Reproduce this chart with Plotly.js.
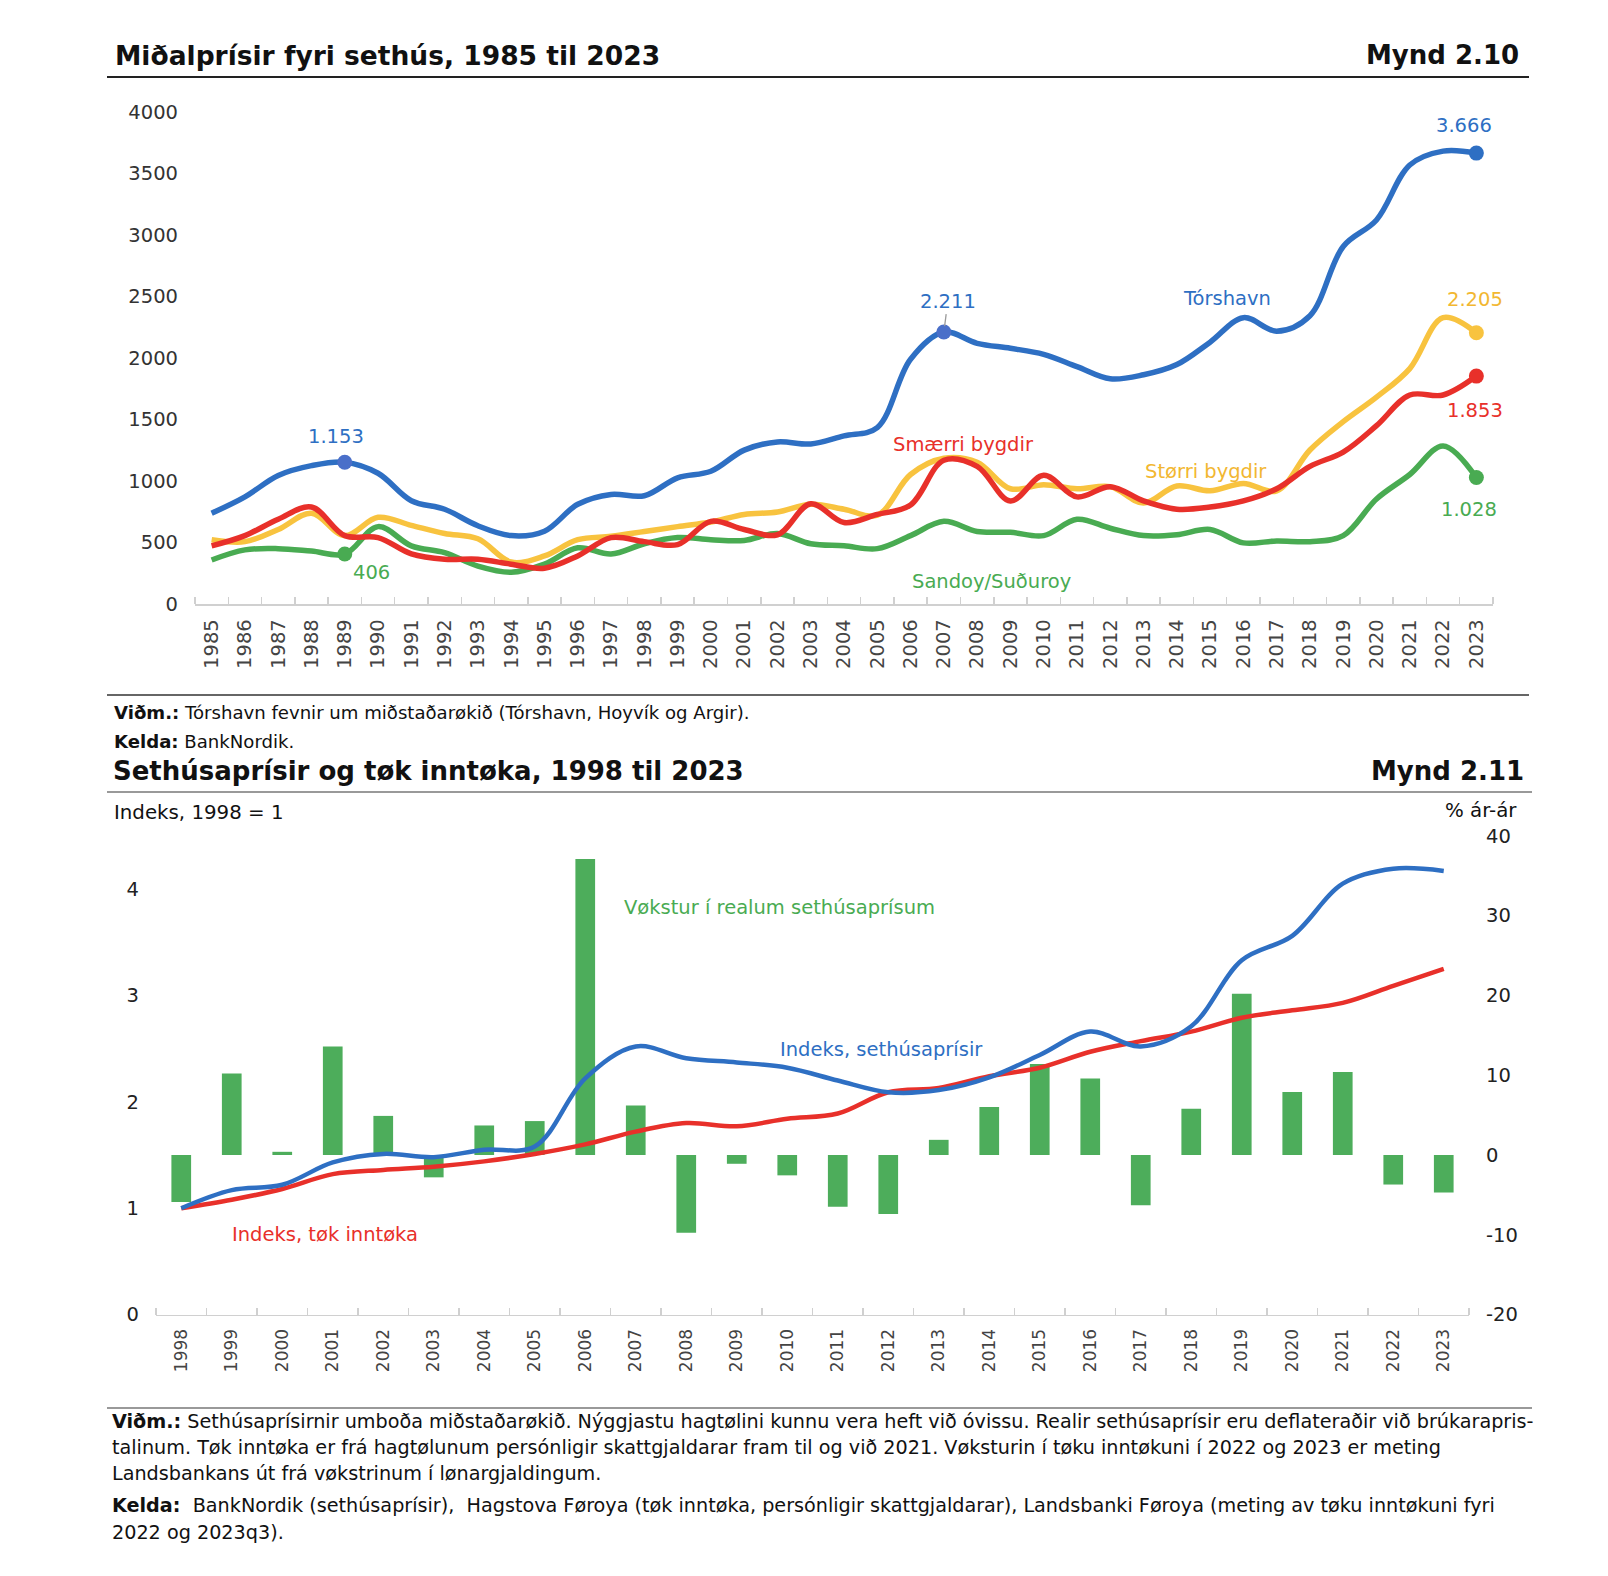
<!DOCTYPE html>
<html>
<head>
<meta charset="utf-8">
<script src="https://cdn.plot.ly/plotly-3.0.1.min.js"></script>
<style>
  html, body { margin: 0; padding: 0; background: #fff; }
  #chart { width: 1608px; height: 1576px; }
</style>
</head>
<body>
<div id="chart"></div>
<script>
// ---------- Data: Mynd 2.10 ----------
const years = [1985, 1986, 1987, 1988, 1989, 1990, 1991, 1992, 1993, 1994, 1995, 1996, 1997,
  1998, 1999, 2000, 2001, 2002, 2003, 2004, 2005, 2006, 2007, 2008, 2009, 2010, 2011, 2012,
  2013, 2014, 2015, 2016, 2017, 2018, 2019, 2020, 2021, 2022, 2023];
const torshavn = [738, 871, 1045, 1125, 1153, 1063, 840, 770, 636, 556, 592, 811, 891,
  880, 1026, 1079, 1251, 1318, 1301, 1367, 1434, 1990, 2211, 2119, 2079, 2030, 1930, 1831,
  1864, 1947, 2129, 2328, 2218, 2344, 2907, 3122, 3569, 3682, 3666];
const storriBygdir = [523, 507, 606, 738, 556, 705, 639, 573, 530, 341, 391, 523, 550,
  589, 629, 666, 728, 748, 811, 771, 722, 1053, 1185, 1152, 937, 970, 937, 954,
  821, 960, 920, 980, 920, 1252, 1483, 1682, 1914, 2328, 2205];
const smaerriBygdir = [473, 556, 689, 788, 556, 540, 407, 364, 364, 324, 291, 391, 540,
  507, 483, 672, 606, 563, 815, 662, 728, 805, 1169, 1119, 838, 1046, 871, 954,
  838, 771, 788, 838, 937, 1119, 1235, 1450, 1699, 1699, 1853];
const sandoySuduroy = [358, 440, 450, 430, 406, 629, 473, 417, 308, 258, 324, 457, 407,
  490, 540, 523, 517, 573, 490, 473, 450, 556, 672, 589, 583, 556, 689, 616,
  556, 563, 606, 497, 513, 507, 556, 854, 1053, 1285, 1028];
const topYTicks = [0, 500, 1000, 1500, 2000, 2500, 3000, 3500, 4000];

// ---------- Data: Mynd 2.11 ----------
const years2 = [1998, 1999, 2000, 2001, 2002, 2003, 2004, 2005, 2006, 2007, 2008, 2009, 2010,
  2011, 2012, 2013, 2014, 2015, 2016, 2017, 2018, 2019, 2020, 2021, 2022, 2023];
const vokstur = [-5.9, 10.2, 0.4, 13.6, 4.9, -2.8, 3.7, 4.25, 37.1, 6.2, -9.75, -1.1, -2.55,
  -6.5, -7.4, 1.9, 6.0, 11.4, 9.6, -6.3, 5.8, 20.2, 7.9, 10.4, -3.7, -4.7];
const indeksSethus = [1.0, 1.17, 1.22, 1.43, 1.51, 1.48, 1.55, 1.58, 2.22, 2.52, 2.41, 2.37, 2.32,
  2.20, 2.09, 2.11, 2.23, 2.44, 2.66, 2.52, 2.71, 3.33, 3.56, 4.05, 4.19, 4.17];
const indeksInntoka = [1.0, 1.08, 1.18, 1.32, 1.36, 1.39, 1.44, 1.51, 1.60, 1.72, 1.80, 1.77, 1.84,
  1.89, 2.09, 2.13, 2.24, 2.32, 2.47, 2.57, 2.66, 2.79, 2.86, 2.93, 3.09, 3.25];
const leftTicks = [0, 1, 2, 3, 4];
const rightTicks = [-20, -10, 0, 10, 20, 30, 40];
const rightTickText = ['-20', '-10', '0', '10', '20', '30', '40'];

// ---------- Styling ----------
const W = 1608, H = 1576;
const px = x => x / W;
const py = y => 1 - y / H;
const FONT = 'DejaVu Sans, Verdana, sans-serif';
const C = { blue: '#2e6fc3', yellow: '#f8c33f', red: '#e8302a', green: '#49ab52', bar: '#4dad5b',
  markBlue: '#4a6fc9' };
const fmt = v => String(v).replace(/\B(?=(\d{3})+(?!\d))/g, '.');

const i1989 = years.indexOf(1989), i2007 = years.indexOf(2007), iLast = years.length - 1;

const lineTrace = (y, color, w, xa, ya, xs) => ({
  type: 'scatter', mode: 'lines', x: xs, y: y, xaxis: xa, yaxis: ya,
  line: { color: color, width: w, shape: 'spline', smoothing: 1 }, hoverinfo: 'skip'
});
const markerTrace = (idx, series, color) => ({
  type: 'scatter', mode: 'markers', xaxis: 'x', yaxis: 'y', cliponaxis: false,
  x: idx.map(i => years[i]), y: idx.map(i => series[i]),
  marker: { color: color, size: 15 }, hoverinfo: 'skip'
});

const traces = [
  lineTrace(sandoySuduroy, C.green, 5.5, 'x', 'y', years),
  lineTrace(storriBygdir, C.yellow, 5.5, 'x', 'y', years),
  lineTrace(smaerriBygdir, C.red, 5.5, 'x', 'y', years),
  lineTrace(torshavn, C.blue, 5.5, 'x', 'y', years),
  markerTrace([i1989, iLast], sandoySuduroy, C.green),
  markerTrace([iLast], storriBygdir, C.yellow),
  markerTrace([iLast], smaerriBygdir, C.red),
  markerTrace([i1989, i2007], torshavn, C.markBlue),
  markerTrace([iLast], torshavn, C.blue),
  // bottom chart: bars on base axis (y2, right side), lines on overlay (y3, left side)
  { type: 'bar', x: years2, y: vokstur, xaxis: 'x2', yaxis: 'y2', width: 0.39,
    marker: { color: C.bar, line: { width: 0 } }, hoverinfo: 'skip' },
  lineTrace(indeksInntoka, C.red, 4.5, 'x2', 'y3', years2),
  lineTrace(indeksSethus, C.blue, 4.5, 'x2', 'y3', years2)
];

const ann = [];
const txt = (x, y, text, opts) => ann.push(Object.assign({
  xref: 'paper', yref: 'paper', x: px(x), y: py(y), text: text, showarrow: false,
  xanchor: 'left', yanchor: 'middle', font: { family: FONT, size: 19.2, color: '#111' }
}, opts || {}));
const dataLbl = (xa, ya, x, y, text, color, xs, ys, extra) => ann.push(Object.assign({
  xref: xa, yref: ya, x: x, y: y, text: text, showarrow: false, xanchor: 'center', yanchor: 'middle',
  xshift: xs || 0, yshift: ys || 0, font: { family: FONT, size: 19.5, color: color }
}, extra || {}));

const noteTop = { font: { family: FONT, size: 18.1, color: '#111' } };

// Titles and notes
txt(113, 55.5, '<b>Miðalprísir fyri sethús, 1985 til 2023</b>', { font: { family: FONT, size: 26.5, color: '#111' } });
txt(1521, 55.5, '<b>Mynd 2.10</b>', { xanchor: 'right', font: { family: FONT, size: 26, color: '#111' } });
txt(112, 712, '<b>Viðm.:</b> Tórshavn fevnir um miðstaðarøkið (Tórshavn, Hoyvík og Argir).', noteTop);
txt(112, 742, '<b>Kelda:</b> BankNordik.', noteTop);
txt(111, 771.5, '<b>Sethúsaprísir og tøk inntøka, 1998 til 2023</b>', { font: { family: FONT, size: 26, color: '#111' } });
txt(1526, 771.5, '<b>Mynd 2.11</b>', { xanchor: 'right', font: { family: FONT, size: 26, color: '#111' } });
txt(112, 812.5, 'Indeks, 1998 = 1', { font: { family: FONT, size: 19.8, color: '#111' } });
txt(1519, 810.5, '% ár-ár', { xanchor: 'right', font: { family: FONT, size: 19.8, color: '#111' } });
txt(110, 1421, '<b>Viðm.:</b> Sethúsaprísirnir umboða miðstaðarøkið. Nýggjastu hagtølini kunnu vera heft við óvissu. Realir sethúsaprísir eru deflateraðir við brúkarapris-');
txt(110, 1447, 'talinum. Tøk inntøka er frá hagtølunum persónligir skattgjaldarar fram til og við 2021. Vøksturin í tøku inntøkuni í 2022 og 2023 er meting');
txt(110, 1473, 'Landsbankans út frá vøkstrinum í lønargjaldingum.');
txt(110, 1505, '<b>Kelda:</b>  BankNordik (sethúsaprísir),  Hagstova Føroya (tøk inntøka, persónligir skattgjaldarar), Landsbanki Føroya (meting av tøku inntøkuni fyri');
txt(110, 1532, '2022 og 2023q3).');

// Top chart data labels
dataLbl('x', 'y', years[i1989], torshavn[i1989], fmt(torshavn[i1989]), C.blue, -9, 26);
dataLbl('x', 'y', years[i1989], sandoySuduroy[i1989], fmt(sandoySuduroy[i1989]), C.green, 27, -18);
ann.push({ xref: 'x', yref: 'y', x: years[i2007], y: torshavn[i2007], text: fmt(torshavn[i2007]),
  showarrow: true, arrowhead: 0, arrowwidth: 1.3, arrowcolor: '#9a9a9a', ax: 4, ay: -31, standoff: 6,
  font: { family: FONT, size: 19.5, color: C.blue } });
dataLbl('x', 'y', years[iLast], torshavn[iLast], fmt(torshavn[iLast]), C.blue, -12, 28);
dataLbl('x', 'y', years[iLast], storriBygdir[iLast], fmt(storriBygdir[iLast]), '#f2b731', -1, 33);
dataLbl('x', 'y', years[iLast], smaerriBygdir[iLast], fmt(smaerriBygdir[iLast]), C.red, -1, -34);
dataLbl('x', 'y', years[iLast], sandoySuduroy[iLast], fmt(sandoySuduroy[iLast]), C.green, -7, -32);
dataLbl('x', 'y', 2015.5, 2480, 'Tórshavn', C.blue);
dataLbl('x', 'y', 2007.58, 1293, 'Smærri bygdir', C.red);
dataLbl('x', 'y', 2014.88, 1081, 'Størri bygdir', '#f2b731');
dataLbl('x', 'y', 2008.42, 187, 'Sandoy/Suðuroy', C.green);

// Bottom chart series labels
dataLbl('x2', 'y3', 2009.84, 3.83, 'Vøkstur í realum sethúsaprísum', C.green);
dataLbl('x2', 'y3', 2011.86, 2.487, 'Indeks, sethúsaprísir', C.blue);
dataLbl('x2', 'y3', 2000.85, 0.757, 'Indeks, tøk inntøka', C.red);

const shapes = [
  { type: 'line', xref: 'paper', yref: 'paper', x0: px(107), x1: px(1529), y0: py(77), y1: py(77), line: { color: '#222', width: 2 } },
  { type: 'line', xref: 'paper', yref: 'paper', x0: px(107), x1: px(1529), y0: py(695), y1: py(695), line: { color: '#333', width: 1.5 } },
  { type: 'line', xref: 'paper', yref: 'paper', x0: px(107), x1: px(1532), y0: py(792), y1: py(792), line: { color: '#999', width: 2 } },
  { type: 'line', xref: 'paper', yref: 'paper', x0: px(107), x1: px(1532), y0: py(1408), y1: py(1408), line: { color: '#999', width: 2 } }
];

const xCommon = {
  showgrid: false, zeroline: false, showline: true, linecolor: '#d0d0d0', linewidth: 1.5,
  ticks: '', tickangle: -90, fixedrange: true,
  minor: { ticks: 'inside', ticklen: 7, tickwidth: 1.5, tickcolor: '#d0d0d0', dtick: 1, showgrid: false }
};

const layout = {
  width: W, height: H, margin: { l: 0, r: 0, t: 0, b: 0 },
  paper_bgcolor: '#fff', plot_bgcolor: 'rgba(0,0,0,0)', showlegend: false,
  font: { family: FONT, color: '#333' },
  xaxis: Object.assign({}, xCommon, {
    domain: [px(195), px(1493)], anchor: 'y', range: [1984.5, 2023.5],
    tickmode: 'array', tickvals: years, ticktext: years.map(String),
    tickfont: { family: FONT, size: 19.5, color: '#444' }, ticklabelstandoff: 6,
    minor: Object.assign({}, xCommon.minor, { tick0: 1984.5 })
  }),
  yaxis: {
    domain: [py(604), py(112)], anchor: 'x', range: [0, 4000],
    tickmode: 'array', tickvals: topYTicks, ticktext: topYTicks.map(String),
    showgrid: false, zeroline: false, showline: false, ticks: '',
    tickfont: { family: FONT, size: 19.5, color: '#333' }, ticklabelstandoff: 16
  },
  xaxis2: Object.assign({}, xCommon, {
    domain: [px(156), px(1469)], anchor: 'y2', range: [1997.5, 2023.5],
    tickmode: 'array', tickvals: years2, ticktext: years2.map(String),
    tickfont: { family: FONT, size: 17, color: '#444' }, ticklabelstandoff: 6,
    minor: Object.assign({}, xCommon.minor, { tick0: 1997.5 })
  }),
  yaxis2: {
    domain: [py(1314.6), py(835.8)], anchor: 'x2', side: 'right', range: [-20, 40],
    tickmode: 'array', tickvals: rightTicks, ticktext: rightTickText,
    showgrid: false, zeroline: false, showline: false, ticks: '',
    tickfont: { family: FONT, size: 19.5, color: '#222' }, ticklabelstandoff: 16
  },
  yaxis3: {
    overlaying: 'y2', anchor: 'x2', side: 'left', range: [0, 4.5],
    tickmode: 'array', tickvals: leftTicks, ticktext: leftTicks.map(String),
    showgrid: false, zeroline: false, showline: false, ticks: '',
    tickfont: { family: FONT, size: 19.5, color: '#222' }, ticklabelstandoff: 16
  },
  annotations: ann,
  shapes: shapes
};

Plotly.newPlot('chart', traces, layout, { staticPlot: true, displayModeBar: false });
</script>
</body>
</html>
